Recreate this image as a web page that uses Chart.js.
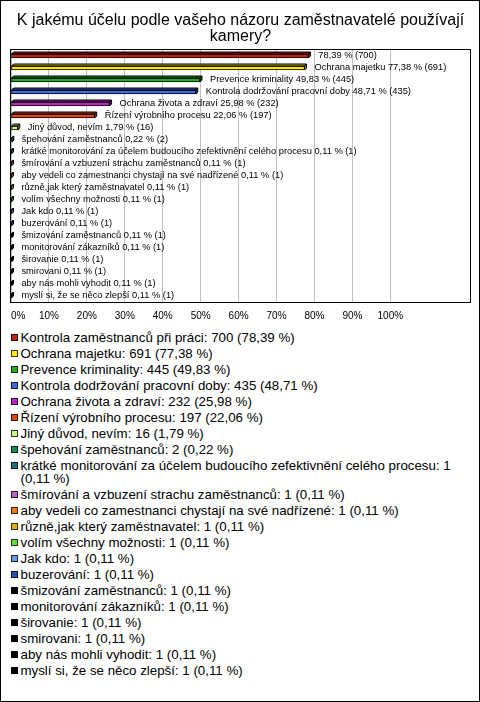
<!DOCTYPE html>
<html>
<head>
<meta charset="utf-8">
<script src="https://cdn.jsdelivr.net/npm/chart.js@4.4.1/dist/chart.umd.min.js"></script>
<style>
  html, body { margin: 0; padding: 0; background: #fff; }
  #frame { position: absolute; left: 0; top: 0; width: 480px; height: 702px; box-sizing: border-box; border: 1px solid #000; pointer-events: none; }
  #c { position: absolute; left: 0; top: 0; }
  #legend { position: absolute; left: 0; top: 331px; width: 470px; font-family: 'Liberation Sans', Arial, sans-serif; font-size: 13.3px; color: #000; }
  .item { position: relative; padding-left: 20.5px; line-height: 13px; margin-bottom: 3px; }
  .sw { position: absolute; left: 10.5px; top: 3px; width: 7px; height: 7px; box-sizing: border-box; border: 1px solid rgba(0,0,0,0.75); }
</style>
</head>
<body>
<canvas id="c" width="480" height="330"></canvas>
<div id="legend"></div>
<div id="frame"></div>
<script>
const titleLines = ['K jakému účelu podle vašeho názoru zaměstnavatelé používají', 'kamery?'];
const categories = [
  'Kontrola zaměstnanců při práci',
  'Ochrana majetku',
  'Prevence kriminality',
  'Kontrola dodržování pracovní doby',
  'Ochrana života a zdraví',
  'Řízení výrobního procesu',
  'Jiný důvod, nevím',
  'špehování zaměstnanců',
  'krátké monitorování za účelem budoucího zefektivnění celého procesu',
  'šmírování a vzbuzení strachu zaměstnanců',
  'aby vedeli co zamestnanci chystají na své nadřízené',
  'různě,jak který zaměstnavatel',
  'volím všechny možnosti',
  'Jak kdo',
  'buzerování',
  'šmizování zaměstnanců',
  'monitorování zákazníků',
  'širovanie',
  'smirovani',
  'aby nás mohli vyhodit',
  'myslí si, že se něco zlepší'
];
const counts = [700, 691, 445, 435, 232, 197, 16, 2, 1, 1, 1, 1, 1, 1, 1, 1, 1, 1, 1, 1, 1];
const percents = [78.39, 77.38, 49.83, 48.71, 25.98, 22.06, 1.79, 0.22, 0.11, 0.11, 0.11, 0.11, 0.11, 0.11, 0.11, 0.11, 0.11, 0.11, 0.11, 0.11, 0.11];
const colors = ['#c4200c', '#ffe600', '#1fb01f', '#3f6ce6', '#c020c8', '#e4440c', '#c8f590', '#178a5a', '#1c7080', '#c060c0', '#e87a10', '#e0b400', '#60e030', '#6a9ae6', '#2850b8', '#000000', '#000000', '#000000', '#000000', '#000000', '#000000'];
const xTickValues = [0, 10, 20, 30, 40, 50, 60, 70, 80, 90, 100];

const FONT = "'Liberation Sans', Arial, sans-serif";
Chart.defaults.font.family = FONT;
Chart.defaults.color = '#000';

function fmt(v) { return v.toFixed(2).replace('.', ','); }
function shade(hex, f) {
  const n = parseInt(hex.slice(1), 16);
  const r = Math.round(((n >> 16) & 255) * f), g = Math.round(((n >> 8) & 255) * f), b = Math.round((n & 255) * f);
  return 'rgb(' + r + ',' + g + ',' + b + ')';
}

const boxPlugin = {
  id: 'plotBox',
  beforeDatasetsDraw(chart) {
    const a = chart.chartArea, ctx = chart.ctx;
    ctx.save();
    ctx.strokeStyle = '#000';
    ctx.lineWidth = 1;
    ctx.strokeRect(Math.round(a.left) - 0.5, Math.round(a.top) - 0.5, Math.round(a.right - a.left) + 1, Math.round(a.bottom - a.top) + 1);
    ctx.restore();
  }
};

const bar3d = {
  id: 'bar3d',
  afterDatasetsDraw(chart) {
    const meta = chart.getDatasetMeta(0);
    const ctx = chart.ctx;
    const d = 2;
    ctx.save();
    ctx.lineWidth = 1;
    ctx.strokeStyle = '#000';
    meta.data.forEach((bar, i) => {
      const p = bar.getProps(['x', 'y', 'base', 'height'], true);
      const top = p.y - p.height / 2, bot = p.y + p.height / 2;
      ctx.fillStyle = shade(colors[i], 0.72);
      ctx.beginPath();
      ctx.moveTo(p.base, top); ctx.lineTo(p.base + d, top - d); ctx.lineTo(p.x + d, top - d); ctx.lineTo(p.x, top);
      ctx.closePath(); ctx.fill(); ctx.stroke();
      ctx.fillStyle = shade(colors[i], 0.6);
      ctx.beginPath();
      ctx.moveTo(p.x, top); ctx.lineTo(p.x + d, top - d); ctx.lineTo(p.x + d, bot - d); ctx.lineTo(p.x, bot);
      ctx.closePath(); ctx.fill(); ctx.stroke();
    });
    ctx.font = '9.3px ' + FONT;
    ctx.fillStyle = '#000';
    ctx.textBaseline = 'middle';
    ctx.textAlign = 'left';
    const right = chart.chartArea.right;
    meta.data.forEach((bar, i) => {
      const x = bar.x + 10, y = bar.y - 1;
      const short = fmt(percents[i]) + ' % (' + counts[i] + ')';
      const full = categories[i] + ' ' + short;
      const txt = (x + ctx.measureText(full).width > right) ? short : full;
      ctx.fillText(txt, x, y);
    });
    ctx.restore();
  }
};

new Chart(document.getElementById('c'), {
  type: 'bar',
  data: {
    labels: categories,
    datasets: [{
      data: percents,
      backgroundColor: colors,
      borderColor: '#000',
      borderWidth: 1,
      borderSkipped: false,
      barThickness: 4
    }]
  },
  options: {
    indexAxis: 'y',
    responsive: false,
    animation: false,
    devicePixelRatio: 1,
    layout: { padding: { left: 11, right: 10, top: 0, bottom: 0 } },
    plugins: {
      legend: { display: false },
      tooltip: { enabled: false },
      title: {
        display: true,
        text: titleLines,
        color: '#000',
        font: { size: 16, weight: 'normal', family: FONT, lineHeight: 0.95 },
        padding: { top: 13.4, bottom: 6.2 }
      }
    },
    scales: {
      x: {
        type: 'linear',
        min: 0,
        max: 121,
        position: 'bottom',
        afterBuildTicks: (s) => { s.ticks = xTickValues.concat([s.max]).map(v => ({ value: v })); },
        ticks: {
          align: 'inner',
          padding: 8,
          autoSkip: false,
          maxRotation: 0,
          color: '#000',
          font: { size: 10, family: FONT },
          callback: (v) => v > 100 ? '' : v + '%'
        },
        grid: {
          color: (c) => (c.tick && c.tick.value > 100) ? 'rgba(0,0,0,0)' : '#c0c0c0',
          drawTicks: false
        },
        border: { display: false }
      },
      y: { display: false }
    }
  },
  plugins: [boxPlugin, bar3d]
});

const legend = document.getElementById('legend');
categories.forEach((name, i) => {
  const it = document.createElement('div');
  it.className = 'item';
  const sw = document.createElement('span');
  sw.className = 'sw';
  sw.style.background = colors[i];
  it.appendChild(sw);
  it.appendChild(document.createTextNode(name + ': ' + counts[i] + ' (' + fmt(percents[i]) + ' %)'));
  legend.appendChild(it);
});
</script>
</body>
</html>
